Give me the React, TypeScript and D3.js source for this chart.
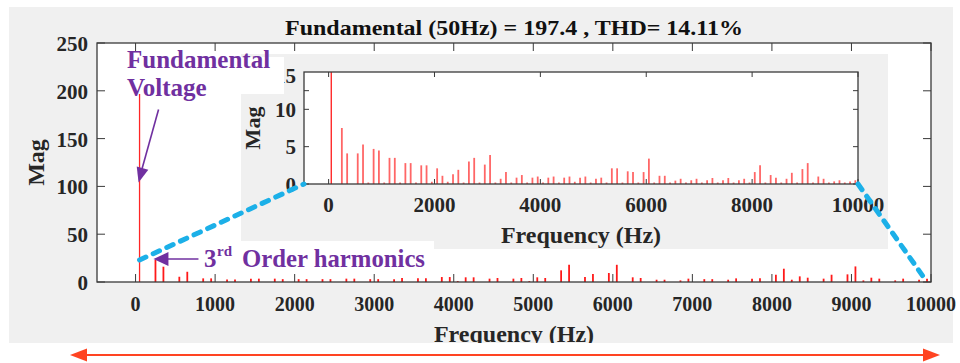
import React from 'react';
import * as d3 from 'd3';

// ---------- data ----------
const titleText = 'Fundamental (50Hz) = 197.4 , THD= 14.11%';

const mainFreq = [50, 250, 350, 550, 650, 850, 950, 1150, 1250, 1450, 1550, 1750, 1850, 2050, 2150, 2350, 2450, 2650, 2750, 2950, 3050, 3250, 3350, 3550, 3650, 3850, 3950, 4050, 4150, 4250, 4450, 4550, 4750, 4850, 4950, 5050, 5150, 5350, 5450, 5650, 5750, 5950, 6050, 6250, 6350, 6550, 6650, 6850, 6950, 7150, 7250, 7450, 7550, 7750, 7850, 8050, 8150, 8250, 8350, 8450, 8650, 8750, 8950, 9050, 9150, 9250, 9350, 9550, 9650, 9850, 9950];
const mainMag = [197.4, 23, 16, 5.5, 10.7, 3.8, 3.8, 2.5, 2.5, 3.5, 3.5, 3.5, 3.0, 3.0, 3.0, 3.0, 3.0, 3.5, 3.5, 3.0, 3.0, 3.0, 4.2, 4.0, 4.0, 5.2, 5.2, 1.0, 4.9, 4.9, 3.5, 4.2, 3.5, 4.2, 1.0, 4.9, 4.2, 12.2, 18, 5.2, 8.3, 9.4, 18, 4.9, 4.2, 2.4, 2.4, 1.7, 3.5, 3.0, 3.0, 2.4, 3.8, 3.5, 3.8, 7.6, 13.9, 2.4, 5.9, 4.5, 3.5, 7.6, 8.0, 16.3, 1.7, 4.5, 3.5, 1.7, 3.5, 2.4, 3.5];

const insetFreq = [50, 250, 350, 550, 650, 750, 850, 950, 1050, 1150, 1250, 1350, 1450, 1550, 1650, 1750, 1850, 1950, 2050, 2150, 2250, 2350, 2450, 2550, 2650, 2750, 2850, 2950, 3050, 3150, 3250, 3350, 3450, 3550, 3650, 3750, 3850, 3950, 4050, 4150, 4250, 4350, 4450, 4550, 4650, 4750, 4850, 4950, 5050, 5150, 5250, 5350, 5450, 5550, 5650, 5750, 5850, 5950, 6050, 6150, 6250, 6350, 6450, 6550, 6650, 6750, 6850, 6950, 7050, 7150, 7250, 7350, 7450, 7550, 7650, 7750, 7850, 7950, 8050, 8150, 8250, 8350, 8450, 8550, 8650, 8750, 8850, 8950, 9050, 9150, 9250, 9350, 9450, 9550, 9650, 9750, 9850, 9950];
const insetMag = [197.4, 7.5, 4.1, 4.1, 5.3, 0.2, 4.7, 4.5, 0.2, 3.5, 3.5, 0.2, 2.8, 2.8, 0.2, 2.5, 2.5, 0.3, 2.1, 1.1, 0.3, 1.3, 1.9, 0.2, 3.0, 3.5, 0.2, 2.6, 3.9, 0.2, 0.7, 1.6, 0.2, 0.85, 1.2, 0.2, 0.85, 1.0, 0.2, 0.85, 1.0, 0.2, 0.85, 1.0, 0.3, 0.85, 1.0, 0.2, 0.7, 0.85, 0.2, 2.1, 2.1, 0.2, 1.7, 1.6, 0.2, 1.6, 3.4, 0.2, 1.1, 1.1, 0.2, 0.45, 0.7, 0.2, 0.5, 0.7, 0.2, 0.5, 0.8, 0.2, 0.5, 0.8, 0.2, 0.5, 0.7, 0.2, 1.6, 2.5, 0.2, 1.2, 0.85, 0.2, 0.7, 1.5, 0.2, 2.0, 2.8, 0.2, 1.0, 0.7, 0.2, 0.35, 0.5, 0.2, 0.35, 0.5];

const mainXTicks = [0, 1000, 2000, 3000, 4000, 5000, 6000, 7000, 8000, 9000, 10000];
const mainYTicks = [0, 50, 100, 150, 200, 250];
const insetXTicks = [0, 2000, 4000, 6000, 8000, 10000];
const insetYTickLabels = [0, 5, 10, 15];
const insetYTickMarks = [0, 5, 10, 12.5];

const FONT = "'Liberation Serif', 'Times New Roman', serif";
const PURPLE = '#7030a0';
const BLUE = '#1cb0e8';
const AXIS = '#3a3a3a';

function arrowHead(tipX: number, tipY: number, fromX: number, fromY: number, len: number, half: number) {
  const dx = tipX - fromX, dy = tipY - fromY;
  const L = Math.hypot(dx, dy);
  const ux = dx / L, uy = dy / L;
  const bx = tipX - ux * len, by = tipY - uy * len;
  const px = -uy, py = ux;
  return `M${tipX},${tipY}L${bx + px * half},${by + py * half}L${bx - px * half},${by - py * half}Z`;
}

export default function App() {
  const mainX = d3.scaleLinear().domain([-485, 10000]).range([97, 931]);
  const mainY = d3.scaleLinear().domain([0, 250]).range([282, 43]);
  const insetX = d3.scaleLinear().domain([-465, 10000]).range([304, 858]);
  const insetY = d3.scaleLinear().domain([0, 15]).range([184, 72]);

  const [mx0, mx1] = mainX.range();
  const [my0, my1] = mainY.range();
  const [ix0, ix1] = insetX.range();
  const [iy0, iy1] = insetY.range();

  const tickLen = 8;
  const iTick = 5;

  // annotation anchors
  const fundTipX = mainX(50) - 1;
  const fundTipY = mainY(104);
  const fundFromX = fundTipX + 20;
  const fundFromY = fundTipY - 73;

  const h3TipX = mainX(250) - 2;
  const h3TipY = mainY(24);
  const h3FromX = h3TipX + 45;

  const blue1 = { x1: mainX(50), y1: mainY(23), x2: ix0, y2: iy0 };
  const blue2 = { x1: ix1, y1: iy0, x2: mainX(9950), y2: mainY(0) };

  return (
    <svg width={960} height={363} style={{ position: 'absolute', left: 0, top: 0 }} fontFamily={FONT}>
      <defs>
        <clipPath id="insetClip">
          <rect x={ix0} y={iy1} width={ix1 - ix0} height={iy0 - iy1} />
        </clipPath>
      </defs>
      <rect x={0} y={0} width={960} height={363} fill="#ffffff" />
      <rect x={9} y={7} width={944} height={336} fill="#f0f0f0" />

      {/* main axes */}
      <rect x={mx0} y={my1} width={mx1 - mx0} height={my0 - my1} fill="#ffffff" />
      {mainFreq.map((f, i) => (
        <line key={'mb' + i} x1={mainX(f)} x2={mainX(f)} y1={mainY(0)} y2={mainY(mainMag[i])}
          stroke="#ff0000" strokeWidth={i === 0 ? 1.3 : 1.8} strokeOpacity={i === 0 ? 0.85 : 0.9} />
      ))}
      {mainXTicks.map((t) => (
        <g key={'mxt' + t}>
          <line x1={mainX(t)} x2={mainX(t)} y1={my0} y2={my0 - tickLen} stroke={AXIS} strokeWidth={1} />
          <line x1={mainX(t)} x2={mainX(t)} y1={my1} y2={my1 + tickLen} stroke={AXIS} strokeWidth={1} />
          <text x={mainX(t)} y={311} textAnchor="middle" fontSize={20} fontWeight="bold" fill="#262626">{t}</text>
        </g>
      ))}
      {mainYTicks.map((t) => (
        <g key={'myt' + t}>
          <line x1={mx0} x2={mx0 + tickLen} y1={mainY(t)} y2={mainY(t)} stroke={AXIS} strokeWidth={1} />
          <line x1={mx1} x2={mx1 - tickLen} y1={mainY(t)} y2={mainY(t)} stroke={AXIS} strokeWidth={1} />
          <text x={88} y={mainY(t) + 8} textAnchor="end" fontSize={21} fontWeight="bold" fill="#262626">{t}</text>
        </g>
      ))}
      <rect x={mx0} y={my1} width={mx1 - mx0} height={my0 - my1} fill="none" stroke={AXIS} strokeWidth={1.3} />
      <text x={(mx0 + mx1) / 2} y={35} textAnchor="middle" fontSize={22} fontWeight="bold" fill="#111"
        textLength={458} lengthAdjust="spacingAndGlyphs">{titleText}</text>
      <text transform={`translate(44,${(my0 + my1) / 2}) rotate(-90)`} textAnchor="middle" fontSize={24} fontWeight="bold" fill="#262626">Mag</text>
      <text x={(mx0 + mx1) / 2} y={342} textAnchor="middle" fontSize={24} fontWeight="bold" fill="#262626">Frequency (Hz)</text>

      {/* inset */}
      <rect x={241} y={54} width={647} height={195} fill="#f0f0f0" />
      <rect x={ix0} y={iy1} width={ix1 - ix0} height={iy0 - iy1} fill="#ffffff" />
      <g clipPath="url(#insetClip)">
        {insetFreq.map((f, i) => (
          <line key={'ib' + i} x1={insetX(f)} x2={insetX(f)} y1={insetY(0)} y2={insetY(Math.min(insetMag[i], 16))}
            stroke="#ff0000" strokeWidth={i === 0 ? 1.3 : 1.8} strokeOpacity={i === 0 ? 0.9 : 0.6} />
        ))}
      </g>
      {insetXTicks.map((t) => (
        <g key={'ixt' + t}>
          <line x1={insetX(t)} x2={insetX(t)} y1={iy0} y2={iy0 - iTick} stroke={AXIS} strokeWidth={1} />
          <line x1={insetX(t)} x2={insetX(t)} y1={iy1} y2={iy1 + iTick} stroke={AXIS} strokeWidth={1} />
          <text x={insetX(t)} y={212} textAnchor="middle" fontSize={21} fontWeight="bold" fill="#262626">{t}</text>
        </g>
      ))}
      {insetYTickMarks.map((t) => (
        <g key={'iytm' + t}>
          <line x1={ix0} x2={ix0 + iTick} y1={insetY(t)} y2={insetY(t)} stroke={AXIS} strokeWidth={1} />
          <line x1={ix1} x2={ix1 - iTick} y1={insetY(t)} y2={insetY(t)} stroke={AXIS} strokeWidth={1} />
        </g>
      ))}
      {insetYTickLabels.map((t) => (
        <text key={'iyl' + t} x={296} y={insetY(t) + 7.5 + (t === 15 ? 3 : 0)} textAnchor="end" fontSize={21} fontWeight="bold" fill="#262626">{t}</text>
      ))}
      <rect x={ix0} y={iy1} width={ix1 - ix0} height={iy0 - iy1} fill="none" stroke={AXIS} strokeWidth={1.3} />
      <text transform={`translate(260,${(iy0 + iy1) / 2}) rotate(-90)`} textAnchor="middle" fontSize={22} fontWeight="bold" fill="#262626">Mag</text>
      <text x={(ix0 + ix1) / 2} y={243} textAnchor="middle" fontSize={24} fontWeight="bold" fill="#262626">Frequency (Hz)</text>

      {/* annotation boxes */}
      <rect x={120} y={57} width={164} height={37} fill="#ffffff" />
      <rect x={198} y={241} width={236} height={33} fill="#ffffff" />

      <text x={127} y={68} fontSize={25} fontWeight="bold" fill={PURPLE}>Fundamental</text>
      <text x={127} y={96} fontSize={25} fontWeight="bold" fill={PURPLE}>Voltage</text>
      <line x1={fundFromX} y1={fundFromY} x2={fundTipX + 3} y2={fundTipY - 12} stroke={PURPLE} strokeWidth={1.6} />
      <path d={arrowHead(fundTipX, fundTipY, fundFromX, fundFromY, 15, 6)} fill={PURPLE} />

      <text x={204} y={267} fontSize={25} fontWeight="bold" fill={PURPLE}>3</text>
      <text x={217} y={256} fontSize={15} fontWeight="bold" fill={PURPLE}>rd</text>
      <text x={242} y={267} fontSize={25} fontWeight="bold" fill={PURPLE} textLength={183} lengthAdjust="spacingAndGlyphs">Order harmonics</text>
      <line x1={h3FromX} y1={h3TipY} x2={h3TipX + 12} y2={h3TipY} stroke={PURPLE} strokeWidth={1.6} />
      <path d={arrowHead(h3TipX, h3TipY, h3FromX, h3TipY, 15, 7)} fill={PURPLE} />

      {/* blue zoom guides */}
      <line x1={blue1.x1} y1={blue1.y1} x2={blue1.x2} y2={blue1.y2} stroke={BLUE} strokeWidth={5} strokeDasharray="7 8" strokeLinecap="round" />
      <line x1={blue2.x1} y1={blue2.y1} x2={blue2.x2} y2={blue2.y2} stroke={BLUE} strokeWidth={5} strokeDasharray="7 8" strokeLinecap="round" />

      {/* crop bottom */}
      <rect x={0} y={343} width={960} height={20} fill="#ffffff" />

      {/* bottom red double arrow */}
      <line x1={84} y1={355} x2={926} y2={355} stroke="#ff4422" strokeWidth={2} />
      <path d={arrowHead(70, 355, 100, 355, 17, 6.5)} fill="#ff4422" />
      <path d={arrowHead(940, 355, 900, 355, 17, 6.5)} fill="#ff4422" />
    </svg>
  );
}
